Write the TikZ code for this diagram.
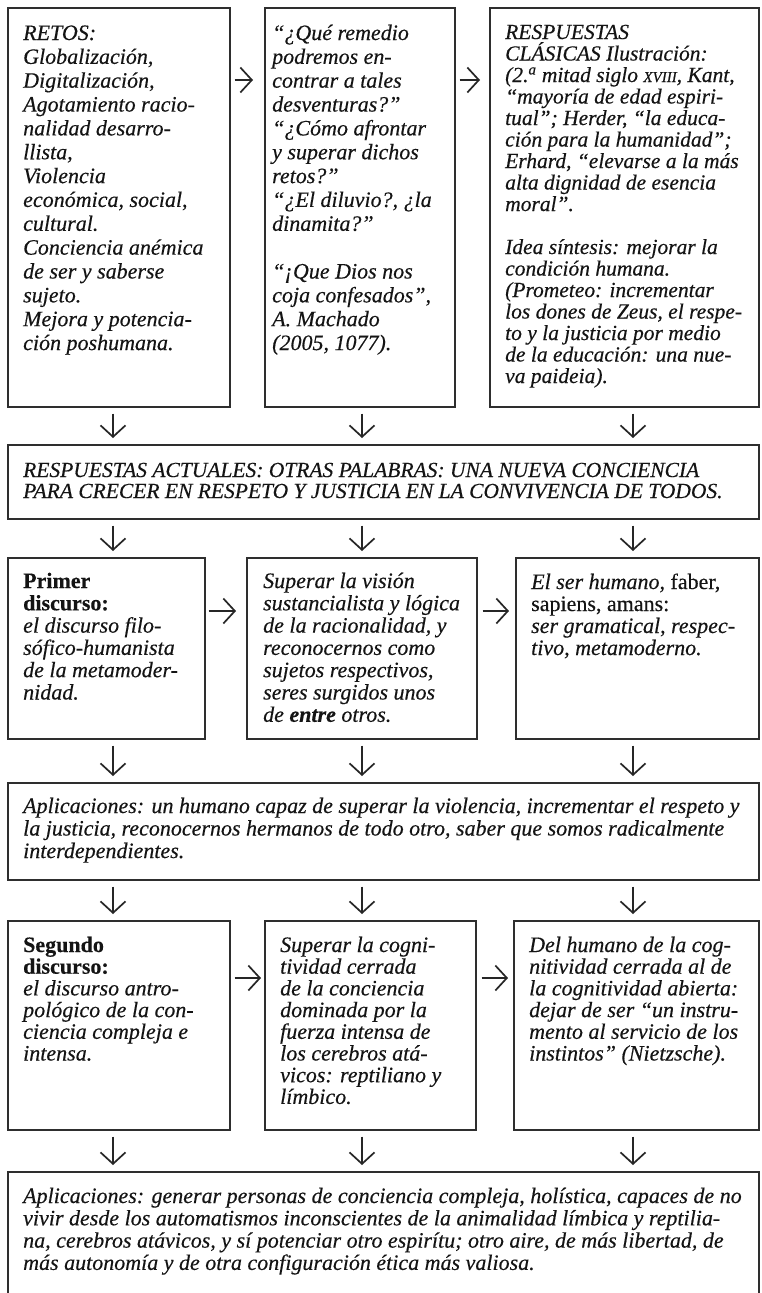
\documentclass[tikz,border=0pt]{standalone}
\usepackage{fontspec}
\setmainfont{Liberation Serif}[FakeBold=0.35]
\usetikzlibrary{arrows.meta}
\tikzset{
  box/.style={draw=black!82, line width=1.5pt, rectangle, inner sep=0pt, anchor=north west},
  txt/.style={anchor=base west, inner sep=0pt, text=black!92},
  arr/.style={draw=black!85, line width=1.7pt, -{Straight Barb[length=11.5pt,width=25pt]}},
}
% #1 width, #2 font size, #3 baselineskip, #4 text
\newcommand{\boxtext}[4]{\parbox[t]{#1}{\raggedright\fontsize{#2}{#3}\selectfont\itshape #4}}
\newcommand{\romnum}[1]{{\fontsize{15}{15}\selectfont #1}}
\begin{document}
\begin{tikzpicture}[x=1pt,y=-1pt]
\useasboundingbox (0,0) rectangle (762,1293);
\fill[white] (0,0) rectangle (762,1293);

% columns and rows of connectors
\coordinate (c1) at (113,0);
\coordinate (c2) at (362,0);
\coordinate (c3) at (633,0);
\coordinate (r1) at (0,80);
\coordinate (r2) at (0,611);
\coordinate (r3) at (0,978);

% ---------- boxes ----------
\node[box, minimum width=222pt, minimum height=399pt] (A1) at (7,7) {};
\node[box, minimum width=190pt, minimum height=399pt] (A2) at (264,7) {};
\node[box, minimum width=269pt, minimum height=399pt] (A3) at (489,7) {};
\node[box, minimum width=751pt, minimum height=74pt] (B) at (7,444) {};
\node[box, minimum width=197pt, minimum height=181pt] (C1) at (7,557) {};
\node[box, minimum width=230pt, minimum height=181pt] (C2) at (246,557) {};
\node[box, minimum width=243pt, minimum height=181pt] (C3) at (515,557) {};
\node[box, minimum width=751pt, minimum height=97pt] (D) at (7,782) {};
\node[box, minimum width=222pt, minimum height=209pt] (E1) at (7,920) {};
\node[box, minimum width=211pt, minimum height=209pt] (E2) at (264,920) {};
\node[box, minimum width=245pt, minimum height=209pt] (E3) at (513,920) {};
\node[box, minimum width=751pt, minimum height=140pt] (F) at (7,1171) {};

% ---------- texts ----------
\node[txt] (tA1) at (23,40) {\boxtext{205pt}{22}{23.85}{%
RETOS:\\ Globalización,\\ Digitalización,\\ Agotamiento racio-\\ nalidad desarro-\\ llista,\\ Violencia\\ económica, social,\\ cultural.\\ Conciencia anémica\\ de ser y saberse\\ sujeto.\\ Mejora y potencia-\\ ción poshumana.}};

\node[txt] (tA2) at (272,40) {\boxtext{180pt}{22}{23.85}{%
“¿Qué remedio\\ podremos en-\\ contrar a tales\\ desventuras?”\\ “¿Cómo afrontar\\ y superar dichos\\ retos?”\\ “¿El diluvio?, ¿la\\ dinamita?”\\[23.85pt] “¡Que Dios nos\\ coja confesados”,\\ A. Machado\\ (2005, 1077).}};

\node[txt] (tA3) at (505,39) {\boxtext{252pt}{21.5}{21.5}{%
RESPUESTAS\\ CLÁSICAS Ilustración:\\ (2.\textsuperscript{a} mitad siglo \romnum{XVIII}, Kant,\\ “mayoría de edad espiri-\\ tual”; Herder, “la educa-\\ ción para la humanidad”;\\ Erhard, “elevarse a la más\\ alta dignidad de esencia\\ moral”.\\[21.5pt] Idea síntesis: mejorar la\\ condición humana.\\ (Prometeo: incrementar\\ los dones de Zeus, el respe-\\ to y la justicia por medio\\ de la educación: una nue-\\ va paideia).}};

\node[txt] (tB) at (23,477) {\boxtext{735pt}{21.5}{21}{%
RESPUESTAS ACTUALES: OTRAS PALABRAS: UNA NUEVA CONCIENCIA\\ PARA CRECER EN RESPETO Y JUSTICIA EN LA CONVIVENCIA DE TODOS.}};

\node[txt] (tC1) at (23,588) {\boxtext{180pt}{22}{22.3}{%
\textbf{\upshape Primer}\\ \textbf{\upshape discurso:}\\ el discurso filo-\\ sófico-humanista\\ de la metamoder-\\ nidad.}};

\node[txt] (tC2) at (263,588) {\boxtext{210pt}{22}{22.3}{%
Superar la visión\\ sustancialista y lógica\\ de la racionalidad, y\\ reconocernos como\\ sujetos respectivos,\\ seres surgidos unos\\ de \textbf{entre} otros.}};

\node[txt] (tC3) at (531,589) {\boxtext{225pt}{22}{22}{%
El ser humano, {\upshape faber,}\\ {\upshape sapiens, amans:}\\ ser gramatical, respec-\\ tivo, metamoderno.}};

\node[txt] (tD) at (23,813) {\boxtext{735pt}{22}{22.5}{%
Aplicaciones: un humano capaz de superar la violencia, incrementar el respeto y\\ la justicia, reconocernos hermanos de todo otro, saber que somos radicalmente\\ interdependientes.}};

\node[txt] (tE1) at (23,952) {\boxtext{205pt}{22}{21.7}{%
\textbf{\upshape Segundo}\\ \textbf{\upshape discurso:}\\ el discurso antro-\\ pológico de la con-\\ ciencia compleja e\\ intensa.}};

\node[txt] (tE2) at (280,952) {\boxtext{195pt}{22}{21.7}{%
Superar la cogni-\\ tividad cerrada\\ de la conciencia\\ dominada por la\\ fuerza intensa de\\ los cerebros atá-\\ vicos: reptiliano y\\ límbico.}};

\node[txt] (tE3) at (529,952) {\boxtext{228pt}{22}{21.7}{%
Del humano de la cog-\\ nitividad cerrada al de\\ la cognitividad abierta:\\ dejar de ser “un instru-\\ mento al servicio de los\\ instintos” (Nietzsche).}};

\node[txt] (tF) at (23,1203) {\boxtext{735pt}{22}{22.3}{%
Aplicaciones: generar personas de conciencia compleja, holística, capaces de no\\ vivir desde los automatismos inconscientes de la animalidad límbica y reptilia-\\ na, cerebros atávicos, y sí potenciar otro espirítu; otro aire, de más libertad, de\\ más autonomía y de otra configuración ética más valiosa.}};

% ---------- horizontal connectors ----------
\draw[arr, shorten <=4pt, shorten >=11pt] (A1.east |- r1) -- (A2.west |- r1);
\draw[arr, shorten <=4pt, shorten >=9pt]  (A2.east |- r1) -- (A3.west |- r1);
\draw[arr, shorten <=3pt, shorten >=10pt] (C1.east |- r2) -- (C2.west |- r2);
\draw[arr, shorten <=5pt, shorten >=6pt]  (C2.east |- r2) -- (C3.west |- r2);
\draw[arr, shorten <=4pt, shorten >=3pt]  (E1.east |- r3) -- (E2.west |- r3);
\draw[arr, shorten <=5pt, shorten >=5pt]  (E2.east |- r3) -- (E3.west |- r3);

% ---------- vertical connectors ----------
\foreach \up/\dn/\c in {A1/B/c1, A2/B/c2, A3/B/c3,
                        B/C1/c1, B/C2/c2, B/C3/c3,
                        C1/D/c1, C2/D/c2, C3/D/c3,
                        D/E1/c1, D/E2/c2, D/E3/c3,
                        E1/F/c1, E2/F/c2, E3/F/c3}
  \draw[arr, shorten <=6pt, shorten >=6pt] (\up.south -| \c) -- (\dn.north -| \c);
\end{tikzpicture}
\end{document}
